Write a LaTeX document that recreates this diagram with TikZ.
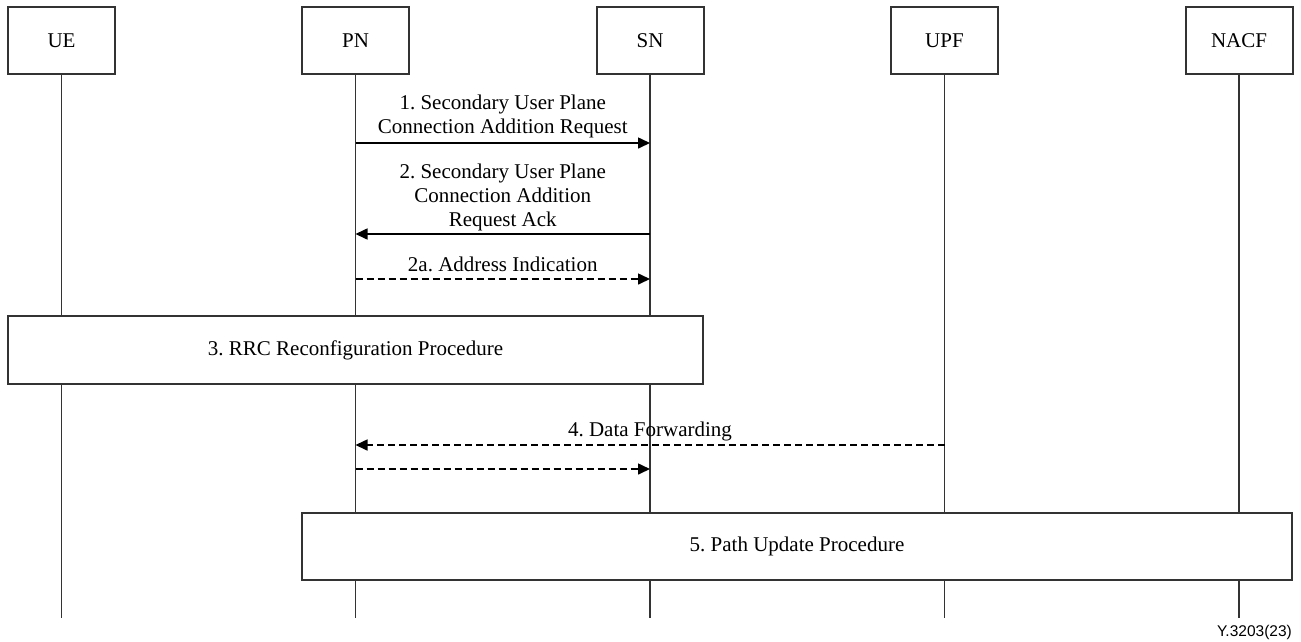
\documentclass[tikz,border=0pt]{standalone}
\usepackage{fontspec}
\setmainfont{Liberation Serif}
\newfontfamily\figsans{Liberation Sans}
\usetikzlibrary{arrows.meta}
\frenchspacing

\tikzset{
  entity/.style={draw=black!80, line width=2pt, fill=white,
    minimum width=107pt, minimum height=67pt, inner sep=0pt,
    font=\fontsize{21}{24}\selectfont},
  procbox/.style={draw=black!80, line width=2pt, fill=white, inner sep=0pt,
    font=\fontsize{21}{24}\selectfont},
  lifeline/.style={draw=black!80, line width=1.8pt},
  msg/.style={draw=black, line width=1.6pt,
    -{Triangle[length=12pt,width=11pt]}},
  dmsg/.style={msg, dash pattern=on 7pt off 4pt},
  msglabel/.style={font=\fontsize{21}{24}\selectfont, align=center,
    text depth=0pt, inner sep=0pt, anchor=south}
}

\begin{document}
\begin{tikzpicture}[x=1pt, y=-1pt]
  \useasboundingbox (0,0) rectangle (1301,641);

  % message levels and the foot of the lifelines
  \coordinate (m1)  at (0,143);
  \coordinate (m2)  at (0,234);
  \coordinate (m2a) at (0,279);
  \coordinate (m4)  at (0,445);
  \coordinate (m4b) at (0,469);
  \coordinate (foot) at (0,618);

  % entities
  \node[entity] (UE)   at (61.5,40.5)  {UE};
  \node[entity] (PN)   at (355.5,40.5) {PN};
  \node[entity] (SN)   at (650,40.5)   {SN};
  \node[entity] (UPF)  at (944.5,40.5) {UPF};
  \node[entity] (NACF) at (1239,40.5)  {NACF};

  % lifelines
  \foreach \e in {UE,PN,SN,UPF,NACF}
    \draw[lifeline] (\e) -- (\e |- foot);

  % procedures spanning several lifelines
  \node[procbox, minimum width=695pt, minimum height=68pt] (rrc) at (355.5,350)
    {3. RRC Reconfiguration Procedure};
  \node[procbox, minimum width=990pt, minimum height=67pt] (path) at (797,546.5)
    {5. Path Update Procedure};

  % messages
  \draw[msg] (PN |- m1) -- (SN |- m1)
    node[msglabel, yshift=9pt, pos=0.5] {1. Secondary User Plane\\Connection Addition Request};
  \draw[msg] (SN |- m2) -- (PN |- m2)
    node[msglabel, yshift=7pt, pos=0.5] {2. Secondary User Plane\\Connection Addition\\Request Ack};
  \draw[dmsg] (PN |- m2a) -- (SN |- m2a)
    node[msglabel, yshift=7pt, pos=0.5] {2a. Address Indication};
  \draw[dmsg] (UPF |- m4) -- (PN |- m4)
    node[msglabel, yshift=8pt, pos=0.5] {4. Data Forwarding};
  \draw[dmsg] (PN |- m4b) -- (SN |- m4b);

  % figure reference
  \node[font=\figsans\fontsize{15.5}{18}\selectfont, anchor=base east, inner sep=0pt]
    (figref) at (1292,636) {Y.3203(23)};
\end{tikzpicture}
\end{document}
